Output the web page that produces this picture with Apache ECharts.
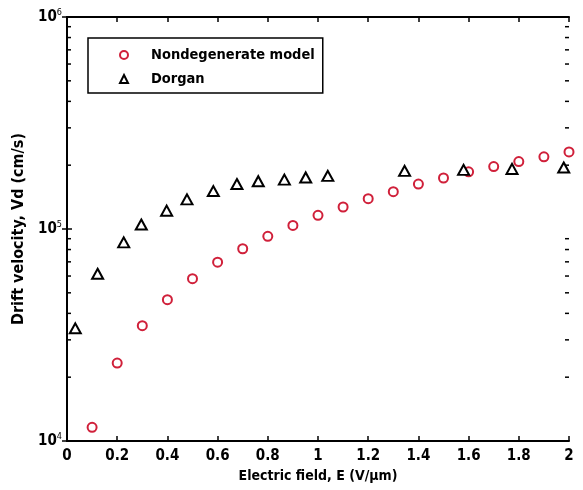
<!DOCTYPE html>
<html>
<head>
<meta charset="utf-8">
<script src="https://cdn.jsdelivr.net/npm/echarts@6/dist/echarts.min.js"></script>
<style>
  html, body { margin: 0; padding: 0; background: #fff; }
  #chart { width: 583px; height: 490px; }
</style>
</head>
<body>
<div id="chart"></div>
<script>
// Nondegenerate model (E in V/um, Vd in cm/s)
const modelE = [0.1, 0.2, 0.3, 0.4, 0.5, 0.6, 0.7, 0.8, 0.9, 1.0, 1.1, 1.2, 1.3, 1.4, 1.5, 1.6, 1.7, 1.8, 1.9, 2.0]
const modelVd = [11600, 23300, 35000, 46400, 58300, 69700, 80700, 92400, 104000, 116000, 127000, 139000, 150000, 163000, 174000, 186000, 197000, 208000, 219000, 231000]
// Dorgan data
const dorganE = [0.033, 0.122, 0.226, 0.296, 0.397, 0.478, 0.583, 0.677, 0.762, 0.866, 0.951, 1.039, 1.345, 1.58, 1.773, 1.979]
const dorganVd = [34000, 61500, 86500, 105000, 122000, 138000, 151000, 163000, 168000, 171000, 175000, 178000, 188000, 190000, 192000, 195000]
// minor tick values on the log axis
const minorTicks = [20000, 30000, 40000, 50000, 60000, 70000, 80000, 90000,
                    200000, 300000, 400000, 500000, 600000, 700000, 800000, 900000]

const FONT = '"Liberation Sans Narrow", "DejaVu Sans Condensed", "Liberation Sans", sans-serif'

const chart = echarts.init(document.getElementById('chart'))

const axisLine = { show: true, lineStyle: { color: '#000', width: 2 } }
const tick = { show: true, inside: true, length: 5, lineStyle: { color: '#000', width: 1.5 } }

const option = {
  animation: false,
  backgroundColor: '#fff',
  grid: { left: 67, right: 14, top: 17, bottom: 49 },
  legend: {
    orient: 'vertical',
    left: 88,
    top: 38,
    padding: [7, 8, 4, 31],
    itemGap: 4,
    itemWidth: 8,
    itemHeight: 8,
    borderColor: '#000',
    borderWidth: 1.5,
    borderRadius: 0,
    textStyle: {
      fontFamily: FONT, fontWeight: 'bold', fontSize: 14.5, color: '#000',
      lineHeight: 20, padding: [0, 0, 0, 18]
    },
    data: [
      { name: 'Nondegenerate model', icon: 'emptyCircle' },
      { name: 'Dorgan', icon: 'emptyTriangle' }
    ]
  },
  xAxis: [
    {
      type: 'value', min: 0, max: 2, interval: 0.2,
      name: 'Electric field, E (V/\u03bcm)',
      nameLocation: 'middle', nameGap: 28,
      nameTextStyle: { fontFamily: FONT, fontWeight: 'bold', fontSize: 14, color: '#000' },
      axisLine: axisLine, axisTick: tick,
      splitLine: { show: false },
      axisLabel: {
        margin: 8, fontFamily: FONT, fontWeight: 'bold', fontSize: 15, color: '#000',
        formatter: v => String(Math.round(v * 10) / 10)
      }
    },
    {
      type: 'value', min: 0, max: 2, interval: 0.2, position: 'top',
      axisLine: axisLine, axisTick: tick,
      splitLine: { show: false }, axisLabel: { show: false }
    }
  ],
  yAxis: [
    {
      type: 'log', logBase: 10, min: 10000, max: 1000000,
      name: 'Drift velocity, Vd (cm/s)',
      nameLocation: 'middle', nameGap: 38,
      nameTextStyle: { fontFamily: FONT, fontWeight: 'bold', fontSize: 16, color: '#000' },
      axisLine: axisLine, axisTick: tick,
      splitLine: { show: false },
      axisLabel: {
        margin: 5,
        formatter: v => '{b|10}{s|' + Math.round(Math.log10(v)) + '}',
        rich: {
          b: { fontFamily: FONT, fontWeight: 'bold', fontSize: 15, color: '#000', lineHeight: 18 },
          s: { fontFamily: FONT, fontSize: 9, color: '#000', verticalAlign: 'top', lineHeight: 18 }
        }
      }
    },
    {
      type: 'log', logBase: 10, min: 10000, max: 1000000, position: 'right',
      axisLine: axisLine, axisTick: tick,
      splitLine: { show: false }, axisLabel: { show: false }
    }
  ],
  series: [
    {
      name: 'Nondegenerate model',
      type: 'scatter',
      symbol: 'emptyCircle',
      symbolSize: 9,
      itemStyle: { color: '#d0203a', borderWidth: 1.5, opacity: 1 },
      data: modelE.map((e, i) => [e, modelVd[i]])
    },
    {
      name: 'Dorgan',
      type: 'scatter',
      symbol: 'emptyTriangle',
      symbolSize: [11, 10],
      itemStyle: { color: '#000', borderWidth: 1.2, opacity: 1 },
      data: dorganE.map((e, i) => [e, dorganVd[i]])
    },
    {
      // minor ticks of the log axis, left and right side
      type: 'custom',
      silent: true,
      clip: false,
      z: 5,
      data: minorTicks.map(v => [0, v]),
      renderItem: (params, api) => {
        const y = api.coord([0, api.value(1)])[1]
        const cs = params.coordSys
        const st = { stroke: '#000', lineWidth: 1.5 }
        return {
          type: 'group',
          children: [
            { type: 'line', shape: { x1: cs.x, y1: y, x2: cs.x + 4, y2: y }, style: st },
            { type: 'line', shape: { x1: cs.x + cs.width - 4, y1: y, x2: cs.x + cs.width, y2: y }, style: st }
          ]
        }
      }
    }
  ]
}

chart.setOption(option)
</script>
</body>
</html>
